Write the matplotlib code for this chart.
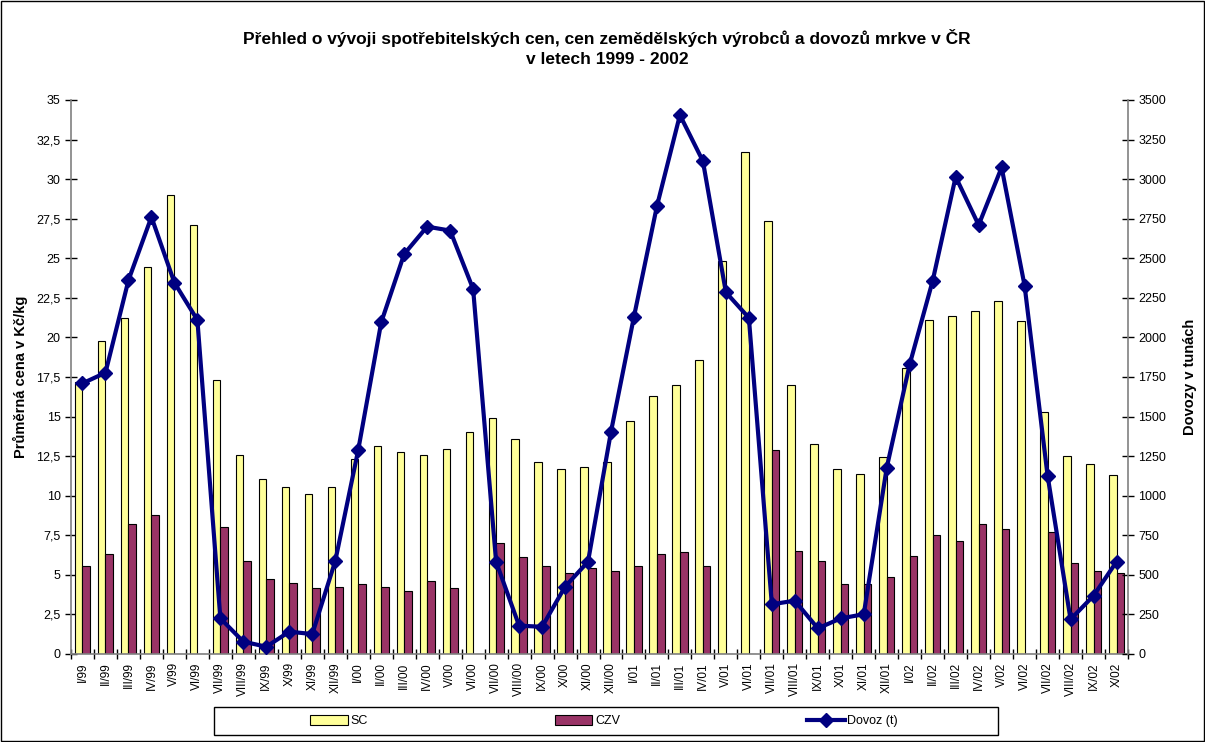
import matplotlib
matplotlib.use("Agg")
import matplotlib.pyplot as plt
import numpy as np
from matplotlib.patches import Rectangle
from matplotlib.ticker import FixedLocator, FuncFormatter

plt.rcParams['font.family'] = ['Liberation Sans', 'DejaVu Sans']

months = ["I/99", "II/99", "III/99", "IV/99", "V/99", "VI/99", "VII/99", "VIII/99", "IX/99", "X/99", "XI/99", "XII/99",
          "I/00", "II/00", "III/00", "IV/00", "V/00", "VI/00", "VII/00", "VIII/00", "IX/00", "X/00", "XI/00", "XII/00",
          "I/01", "II/01", "III/01", "IV/01", "V/01", "VI/01", "VII/01", "VIII/01", "IX/01", "X/01", "XI/01", "XII/01",
          "I/02", "II/02", "III/02", "IV/02", "V/02", "VI/02", "VII/02", "VIII/02", "IX/02", "X/02"]

sc = [17.2, 19.8, 21.25, 24.47, 29.0, 27.1, 17.3, 12.6, 11.05, 10.57, 10.1, 10.57,
      12.3, 13.16, 12.78, 12.6, 12.93, 14.04, 14.89, 13.56, 12.15, 11.67, 11.83, 12.15,
      14.74, 16.32, 17.0, 18.57, 24.85, 31.73, 27.35, 17.0, 13.25, 11.67, 11.35, 12.47,
      18.05, 21.1, 21.37, 21.69, 22.32, 21.04, 15.27, 12.53, 11.98, 11.29]

czv = [5.58, 6.3, 8.23, 8.78, 0, 0, 8.0, 5.9, 4.72, 4.48, 4.15, 4.23,
       4.4, 4.23, 4.0, 4.63, 4.15, 0, 6.99, 6.1, 5.58, 5.1, 5.41, 5.26,
       5.58, 6.3, 6.42, 5.58, 0, 0, 12.87, 6.5, 5.87, 4.4, 4.4, 4.86,
       6.19, 7.52, 7.14, 8.21, 7.9, 0, 7.73, 5.73, 5.26, 5.1]

dovoz = [1710, 1777, 2361, 2761, 2346, 2110, 225, 78, 46, 141, 126, 587,
         1289, 2095, 2527, 2700, 2675, 2306, 583, 179, 172, 425, 583, 1404,
         2131, 2830, 3405, 3114, 2285, 2124, 314, 337, 162, 225, 251, 1177,
         1830, 2358, 3015, 2710, 3074, 2327, 1127, 219, 368, 583]

left_ticks = [0, 2.5, 5, 7.5, 10, 12.5, 15, 17.5, 20, 22.5, 25, 27.5, 30, 32.5, 35]
right_ticks = list(range(0, 3501, 250))

title = "Přehled o vývoji spotřebitelských cen, cen zemědělských výrobců a dovozů mrkve v ČR\nv letech 1999 - 2002"

fig = plt.figure(figsize=(12.05, 7.42), dpi=100)
fig.patch.set_facecolor("white")
ax = fig.add_axes([71/1205, 1-654/742, (1128-71)/1205, (654-100)/742])
ax2 = ax.twinx()

x = np.arange(len(months))
w = 0.33
ax.bar(x - w/2, sc, width=w, color="#FFFF99", edgecolor="black", linewidth=0.8, label="SC", zorder=2)
ax.bar(x + w/2, czv, width=w, color="#993366", edgecolor="black", linewidth=0.8, label="CZV", zorder=2)
ax2.plot(x, dovoz, color="#000080", linewidth=3, marker="D", markersize=7, label="Dovoz (t)", zorder=3)

ax.set_xlim(-0.5, len(months) - 0.5)
ax.set_ylim(0, 35)
ax2.set_ylim(0, 3500)

ax.set_yticks(left_ticks)
ax.yaxis.set_major_formatter(FuncFormatter(lambda v, p: (f"{v:g}").replace(".", ",")))
ax2.set_yticks(right_ticks)

ax.xaxis.set_major_locator(FixedLocator(np.arange(-0.5, len(months), 1.0)))
ax.xaxis.set_major_formatter(FuncFormatter(lambda v, p: ""))
ax.xaxis.set_minor_locator(FixedLocator(x))
ax.set_xticklabels(months, minor=True, rotation=90, fontsize=8.5)
ax.tick_params(axis="x", which="major", direction="inout", length=7, width=1, color="black")
ax.tick_params(axis="x", which="minor", length=0, pad=6)
ax.tick_params(axis="y", direction="inout", length=8, width=1, labelsize=9)
ax2.tick_params(axis="y", direction="inout", length=8, width=1, labelsize=9)

for a in (ax, ax2):
    a.spines["top"].set_visible(False)
    for s in ("left", "right", "bottom"):
        a.spines[s].set_color("#808080")
        a.spines[s].set_linewidth(1.2)
ax.spines["right"].set_visible(False)
ax2.spines["left"].set_visible(False)
ax2.spines["bottom"].set_visible(False)

ax.set_ylabel("Průměrná cena v Kč/kg", fontsize=10.5, fontweight="bold", labelpad=6)
ax2.set_ylabel("Dovozy v tunách", fontsize=10.5, fontweight="bold", labelpad=12)

fig.text(607/1205, 1 - 48/742, title, ha="center", va="center", fontsize=12.5,
         fontweight="bold", linespacing=1.45)

# legend
fig.patches.append(Rectangle((214/1205, 1-735/742), (998-214)/1205, 28/742, transform=fig.transFigure,
                             fill=False, edgecolor="black", linewidth=1))
h1, l1 = ax.get_legend_handles_labels()
h2, l2 = ax2.get_legend_handles_labels()
fig.legend(h1 + h2, l1 + l2, loc="center", bbox_to_anchor=(604/1205, 1-721/742), ncol=3,
           frameon=False, fontsize=9, handlelength=3.0, handletextpad=0.2, columnspacing=15,
           handleheight=0.9)

# outer border
fig.patches.append(Rectangle((1/1205, 1/742), 1203/1205, 740/742, transform=fig.transFigure,
                             fill=False, edgecolor="black", linewidth=1))

fig.savefig("out.png", dpi=100)
